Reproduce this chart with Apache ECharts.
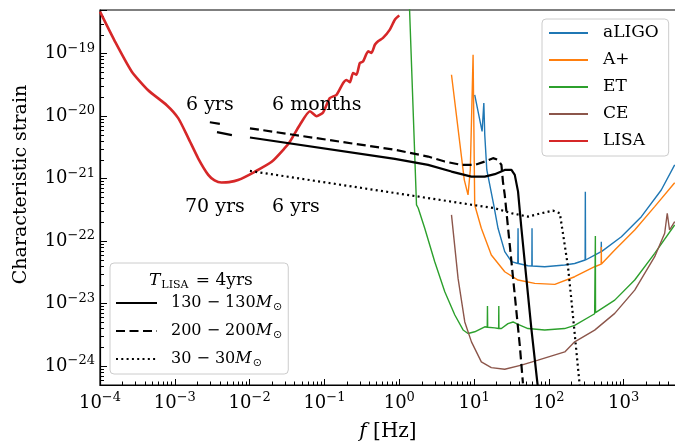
<!DOCTYPE html>
<html><head><meta charset="utf-8">
<script src="https://cdn.jsdelivr.net/npm/echarts@6/dist/echarts.min.js"></script>
<style>html,body{margin:0;padding:0;background:#fff}#c{width:675px;height:443px}</style>
</head><body><div id="c"></div>
<script>
// ---------- data ----------
const lisaF = [1.0e-4, 1.58e-4, 2.65e-4, 4.4e-4, 7.8e-4, 1.11e-3, 1.51e-3, 2.06e-3, 2.8e-3, 3.4e-3, 4.2e-3, 5.3e-3, 7.0e-3, 1.17e-2, 1.97e-2, 2.96e-2, 3.45e-2, 4.7e-2, 6.4e-2, 7.85e-2, 9.6e-2, 0.118, 0.145, 0.178, 0.197, 0.219, 0.241, 0.268, 0.297, 0.328, 0.384, 0.425, 0.472, 0.521, 0.607, 0.748, 0.873, 1.0];
const lisaH = [4.7e-19, 1.58e-19, 5.2e-20, 2.6e-20, 1.5e-20, 9.3e-21, 4.5e-21, 2.1e-21, 1.15e-21, 9.4e-22, 8.7e-22, 8.8e-22, 9.5e-22, 1.29e-21, 1.86e-21, 3.1e-21, 3.9e-21, 7.3e-21, 1.2e-20, 1.0e-20, 1.15e-20, 1.95e-20, 2.2e-20, 3.4e-20, 3.8e-20, 3.5e-20, 4.9e-20, 4.6e-20, 7.1e-20, 7.5e-20, 1.09e-19, 1.03e-19, 1.39e-19, 1.58e-19, 1.79e-19, 2.43e-19, 3.5e-19, 4.1e-19];

const aligoF = [10.2, 12.8, 13.5, 13.9, 14.8, 18.3, 20.9, 25.7, 31.6, 38.4, 38.7, 39.0, 52.6, 59.2, 59.5, 59.8, 87.9, 163, 221, 305, 307, 309, 409, 500, 502, 504, 931, 1722, 3177, 4800];
const aligoH = [2.2e-20, 5.7e-21, 1.62e-20, 5.0e-21, 1.38e-21, 3.8e-22, 1.61e-22, 6.8e-23, 4.7e-23, 4.4e-23, 1.61e-22, 4.4e-23, 4.05e-23, 4.0e-23, 1.61e-22, 4.0e-23, 3.9e-23, 4.15e-23, 4.4e-23, 5.0e-23, 6.2e-22, 5.0e-23, 6.0e-23, 6.8e-23, 9.8e-23, 6.8e-23, 1.18e-22, 2.47e-22, 6.6e-22, 1.66e-21];

const aplusF = [4.99, 7.4, 8.3, 8.9, 9.7, 10.2, 12.5, 17.0, 25.7, 38.7, 64.7, 120, 221, 409, 500, 502, 504, 759, 1403, 2595, 4800];
const aplusH = [4.6e-20, 9.6e-22, 5.5e-22, 1.38e-21, 9.6e-20, 3.8e-22, 1.61e-22, 6.0e-23, 3.24e-23, 2.39e-23, 2.11e-23, 2.04e-23, 2.7e-23, 3.9e-23, 4.3e-23, 8.1e-23, 4.3e-23, 7.2e-23, 1.51e-22, 3.57e-22, 8.6e-22];

const etF = [1.37, 1.70, 1.79, 2.19, 2.98, 4.06, 5.53, 7.13, 8.3, 10.2, 13.9, 15.0, 15.1, 15.2, 18.9, 21.3, 21.4, 21.5, 23.2, 28.4, 33.2, 38.7, 52.5, 87.9, 162, 221, 409, 416, 418, 420, 759, 1403, 2595, 4800];
const etH = [5.5e-19, 3.8e-22, 3.4e-22, 1.61e-22, 4.7e-23, 1.55e-23, 6.6e-24, 3.8e-24, 3.34e-24, 3.55e-24, 4.27e-24, 4.2e-24, 9.2e-24, 4.2e-24, 4.1e-24, 4.0e-24, 9.2e-24, 4.0e-24, 4.0e-24, 4.8e-24, 5.1e-24, 4.66e-24, 4.0e-24, 3.8e-24, 4.0e-24, 4.5e-24, 6.9e-24, 7.1e-24, 1.21e-22, 7.2e-24, 1.14e-23, 2.39e-23, 6.4e-23, 1.82e-22];

const ceF = [4.99, 6.11, 7.51, 9.23, 12.5, 17.0, 25.7, 42.9, 71.6, 163, 221, 409, 759, 1403, 2595, 3530, 3820, 4100, 4800];
const ceH = [2.63e-22, 2.54e-23, 5.1e-24, 2.45e-24, 1.17e-24, 9.5e-25, 8.95e-25, 1.04e-24, 1.25e-24, 1.69e-24, 2.45e-24, 3.78e-24, 7.0e-24, 1.65e-23, 5.65e-23, 1.34e-22, 2.8e-22, 1.51e-22, 2.06e-22];

const m130F = [1.01e-2, 0.873, 2.43, 4.99, 9.2, 13.9, 18.9, 25.7, 31.6, 35.0, 38.7, 42.9, 50.0, 58.3, 71.5];
const m130H = [4.56e-21, 2.07e-21, 1.66e-21, 1.30e-21, 1.08e-21, 1.08e-21, 1.18e-21, 1.38e-21, 1.38e-21, 1.15e-21, 6.2e-22, 1.61e-22, 2.54e-23, 4.0e-24, 4.4e-25];

const m200F = [1.01e-2, 0.873, 2.43, 4.06, 6.8, 10.2, 13.9, 17.9, 20.9, 23.2, 24.3, 25.7, 30.0, 35.0, 40.8, 45.0];
const m200H = [6.4e-21, 2.9e-21, 2.26e-21, 1.88e-21, 1.66e-21, 1.66e-21, 1.88e-21, 2.13e-21, 2.0e-21, 1.66e-21, 9.0e-22, 5.5e-22, 8.7e-23, 1.37e-23, 2.17e-24, 5.3e-25];

const m30F = [1.01e-2, 0.873, 2.43, 6.8, 18.9, 31.6, 52.6, 79.3, 113, 140, 154, 180, 200, 221, 258];
const m30H = [1.33e-21, 5.9e-22, 4.9e-22, 4.05e-22, 3.37e-22, 2.8e-22, 2.47e-22, 2.8e-22, 3.08e-22, 2.8e-22, 1.34e-22, 3.9e-23, 1.14e-23, 3.34e-24, 4.96e-25];

// 6-year tails starting before 10 mHz
const tail200F = [2.94e-3, 4.0e-3];
const tail200H = [8.0e-21, 7.55e-21];
const tail130F = [3.66e-3, 5.8e-3];
const tail130H = [5.56e-21, 4.98e-21];

const noteText = ['6 yrs', '6 months', '70 yrs', '6 yrs'];
const noteF = [2.94e-3, 7.9e-2, 3.43e-3, 4.15e-2];
const noteH = [1.52e-20, 1.52e-20, 3.53e-22, 3.53e-22];

const xMin = 1e-4, xMax = 5000, yMin = 5e-25, yMax = 5e-19;
const detectorNames = ['aLIGO', 'A+', 'ET', 'CE', 'LISA'];
const binaryNames = ['130-130', '200-200', '30-30'];

// ---------- helpers ----------
const FONT = 'DejaVu Serif';
const pairs = (f, h) => f.map((v, i) => [v, h[i]]);
function powLabel(v) {
  const e = Math.log10(v), r = Math.round(e);
  if (Math.abs(e - r) > 1e-6) return '';
  return '10{s|' + (r < 0 ? '\u2212' : '') + Math.abs(r) + '}';
}
function minorTicks(lo, hi) {
  const out = [];
  for (let n = Math.floor(Math.log10(lo)) - 1; n <= Math.ceil(Math.log10(hi)); n++) {
    for (let k = 2; k <= 9; k++) {
      const v = k * Math.pow(10, n);
      if (v >= lo && v <= hi) out.push(Math.log10(v));
    }
  }
  return out;
}
const tickRich = { s: { fontFamily: FONT, fontSize: 13, color: '#000', padding: [0, 0, 11, 0] } };

const chart = echarts.init(document.getElementById('c'));

function lineSeries(name, f, h, color, width, type, z, smooth) {
  return {
    name, type: 'line', data: pairs(f, h), showSymbol: false, symbol: 'none',
    xAxisIndex: 0, yAxisIndex: 0, clip: true, silent: true, z: z || 2, smooth: smooth || false,
    lineStyle: { color, width, type: type || 'solid', cap: 'butt' },
    itemStyle: { color }
  };
}

const option = {
  animation: false,
  backgroundColor: '#fff',
  grid: { left: 100, top: 10, right: -1, bottom: 58, containLabel: false, outerBoundsMode: 'none',
          show: true, borderColor: '#000', borderWidth: 1.2, backgroundColor: 'transparent' },
  title: {
    text: '{it|T}{sub|LISA} = 4yrs', left: 144, top: 266,
    textStyle: { fontFamily: FONT, fontSize: 17, fontWeight: 'normal', color: '#000',
      rich: { it: { fontFamily: FONT, fontSize: 17, fontStyle: 'italic', color: '#000' },
              sub: { fontFamily: FONT, fontSize: 11, color: '#000', padding: [9, 2, 0, 1] } } }
  },
  legend: [
    {
      data: detectorNames, orient: 'vertical', left: 542, top: 19,
      itemWidth: 39, itemHeight: 10, itemGap: 7, padding: [4, 10, 5, 6],
      borderColor: '#ccc', borderWidth: 1, borderRadius: 4, backgroundColor: 'rgba(255,255,255,0.8)',
      itemStyle: { opacity: 0 }, selectedMode: false,
      textStyle: { fontFamily: FONT, fontSize: 17, color: '#000', lineHeight: 20, padding: [0, 0, 0, 10] }
    },
    {
      data: binaryNames, orient: 'vertical', left: 110, top: 263,
      itemWidth: 41, itemHeight: 10, itemGap: 8, padding: [30, 6, 5, 5],
      borderColor: '#ccc', borderWidth: 1, borderRadius: 4, backgroundColor: 'rgba(255,255,255,0.8)',
      itemStyle: { opacity: 0 }, selectedMode: false,
      formatter: n => { const p = n.split('-'); return p[0] + ' \u2212 ' + p[1] + '{it|M}{sub|\u2299}'; },
      textStyle: { fontFamily: FONT, fontSize: 16, color: '#000', lineHeight: 20, padding: [0, 0, 0, 9],
        rich: { it: { fontFamily: FONT, fontSize: 16, fontStyle: 'italic', color: '#000' },
                sub: { fontFamily: 'DejaVu Sans', fontSize: 11, color: '#000', padding: [8, 0, 0, 1] } } }
    }
  ],
  xAxis: [
    {
      type: 'log', logBase: 10, min: xMin, max: xMax, gridIndex: 0, position: 'bottom',
      axisLine: { onZero: false, lineStyle: { color: '#000', width: 1.2 } },
      axisTick: { show: true, inside: true, length: 6, lineStyle: { color: '#000', width: 1 } },
      axisLabel: { formatter: powLabel, fontFamily: FONT, fontSize: 18, color: '#000', margin: 6, rich: tickRich },
      splitLine: { show: false }, minorTick: { show: false },
      name: '{it|f} [Hz]', nameLocation: 'middle', nameGap: 37, nameMoveOverlap: false,
      nameTextStyle: { fontFamily: FONT, fontSize: 20, color: '#000', rich: { it: { fontFamily: FONT, fontSize: 20, fontStyle: 'italic', color: '#000' } } }
    },
    {
      type: 'value', min: Math.log10(xMin), max: Math.log10(xMax), gridIndex: 0, position: 'bottom', offset: 0,
      axisLine: { show: false, onZero: false }, axisLabel: { show: false }, splitLine: { show: false },
      axisTick: { show: true, inside: true, length: 3.5, lineStyle: { color: '#000', width: 1 }, customValues: minorTicks(xMin, xMax) }
    }
  ],
  yAxis: [
    {
      type: 'log', logBase: 10, min: yMin, max: yMax, gridIndex: 0, position: 'left',
      axisLine: { onZero: false, lineStyle: { color: '#000', width: 1.2 } },
      axisTick: { show: true, inside: true, length: 7, lineStyle: { color: '#000', width: 1 } },
      axisLabel: { formatter: powLabel, fontFamily: FONT, fontSize: 18, color: '#000', margin: 5, rich: tickRich },
      splitLine: { show: false }, minorTick: { show: false },
      name: 'Characteristic strain', nameLocation: 'middle', nameGap: 69, nameMoveOverlap: false,
      nameTextStyle: { fontFamily: FONT, fontSize: 19, color: '#000', padding: [0, 0, 0, 26] }
    },
    {
      type: 'value', min: Math.log10(yMin), max: Math.log10(yMax), gridIndex: 0, position: 'left', offset: 0,
      axisLine: { show: false, onZero: false }, axisLabel: { show: false }, splitLine: { show: false },
      axisTick: { show: true, inside: true, length: 4, lineStyle: { color: '#000', width: 1 }, customValues: minorTicks(yMin, yMax) }
    }
  ],
  series: [
    lineSeries('aLIGO', aligoF, aligoH, '#1f77b4', 1.4),
    lineSeries('A+', aplusF, aplusH, '#ff7f0e', 1.4),
    lineSeries('ET', etF, etH, '#2ca02c', 1.4),
    lineSeries('CE', ceF, ceH, '#8c564b', 1.4),
    lineSeries('LISA', lisaF, lisaH, '#d62728', 2.6, 'solid', 2, 0.2),
    lineSeries('130-130', m130F, m130H, '#000', 2.2, 'solid', 3),
    lineSeries('200-200', m200F, m200H, '#000', 2.2, [9, 4.5], 3),
    lineSeries('30-30', m30F, m30H, '#000', 2.2, [2, 3.3], 3),
    lineSeries('tail200', tail200F, tail200H, '#000', 2.2, 'solid', 3),
    lineSeries('tail130', tail130F, tail130H, '#000', 2.2, 'solid', 3),
    {
      name: 'notes', type: 'scatter', xAxisIndex: 0, yAxisIndex: 0, silent: true, z: 4,
      symbolSize: 0, itemStyle: { color: '#000', opacity: 1 },
      data: noteText.map((t, i) => ({ name: t, value: [noteF[i], noteH[i]] })),
      label: { show: true, position: 'inside', formatter: p => p.name, fontFamily: FONT, fontSize: 19,
               color: '#000', opacity: 1, textBorderWidth: 0 }
    }
  ]
};
chart.setOption(option);
</script>
</body></html>
